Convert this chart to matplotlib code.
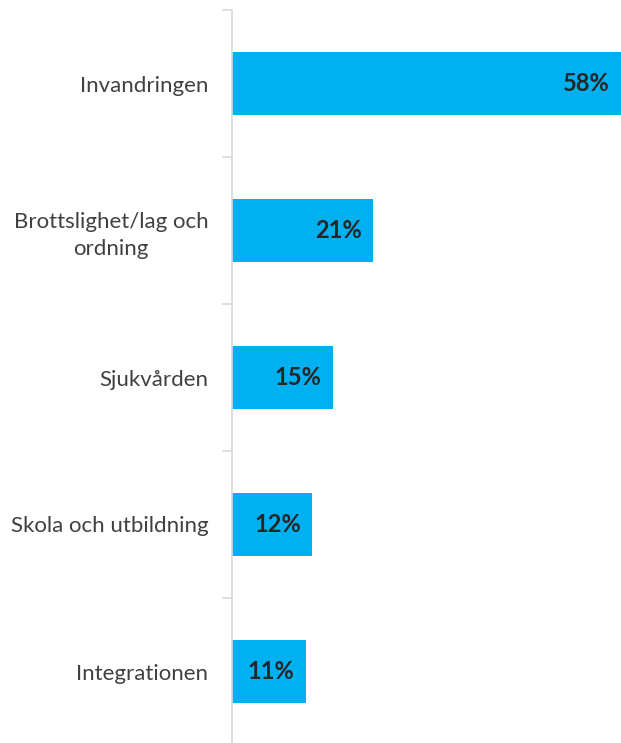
import matplotlib
matplotlib.use("Agg")
import matplotlib.pyplot as plt
import numpy as np

categories = ["Invandringen", "Brottslighet/lag och\nordning", "Sjukvården",
              "Skola och utbildning", "Integrationen"]
values = [58, 21, 15, 12, 11]
value_labels = ["58%", "21%", "15%", "12%", "11%"]

W, H = 621, 743
fig = plt.figure(figsize=(W / 100, H / 100), dpi=100)
ax = fig.add_axes([232 / W, -2 / H, 389 / W, 735 / H])

y = np.arange(len(categories))
ax.barh(y, values, height=0.435, color="#00B0F0", zorder=2)

for yi, v, lab in zip(y, values, value_labels):
    ax.annotate(lab, xy=(v, yi), xytext=(-8, 0), textcoords="offset points",
                ha="right", va="center", fontsize=17, fontweight="bold",
                color="#262626", family="Lato", annotation_clip=False)

ax.set_xlim(0, 58)
ax.set_ylim(len(categories) - 0.5, -0.5)

for s in ["top", "right", "bottom"]:
    ax.spines[s].set_visible(False)
ax.spines["left"].set_color("#D9D9D9")
ax.spines["left"].set_linewidth(1.2)

ax.set_xticks([])
ax.set_yticks(y)
ax.set_yticklabels(categories, fontsize=16, color="#404040", family="Lato",
                   multialignment="center", linespacing=1.4)
ax.tick_params(axis="y", which="major", length=0, pad=17)
ax.set_yticks(np.arange(-0.5, len(categories) + 0.5, 1), minor=True)
ax.tick_params(axis="y", which="minor", length=7, color="#D9D9D9", width=1.2)

fig.savefig("out.png", dpi=100)
